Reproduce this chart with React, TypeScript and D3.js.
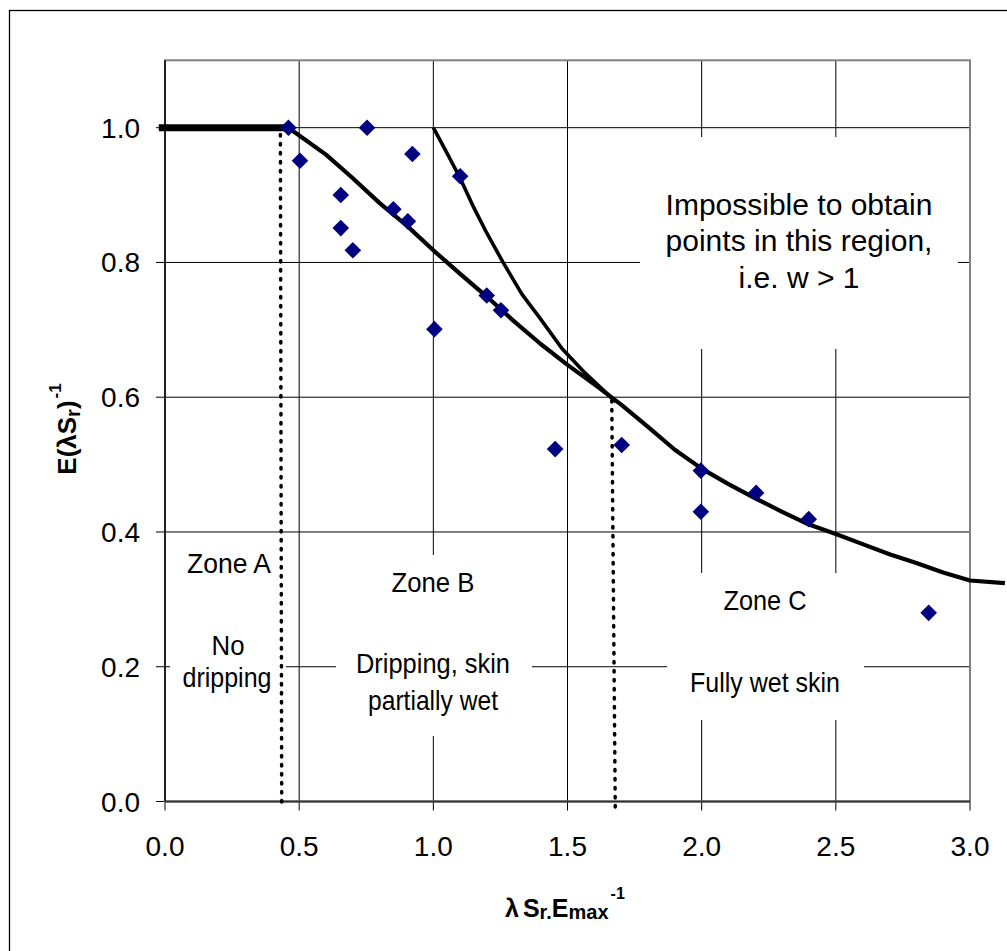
import React from "react";
import * as d3 from "d3";

const W = 1007;
const H = 951;

const xTicks = [0, 0.5, 1.0, 1.5, 2.0, 2.5, 3.0];
const yTicks = [0, 0.2, 0.4, 0.6, 0.8, 1.0];

// observed points (x, y)
const pointsX = [0.46, 0.503, 0.753, 0.922, 1.10, 0.655, 0.851, 0.905, 0.655, 0.70, 1.199, 1.252, 1.004, 1.454, 1.702, 1.997, 1.997, 2.203, 2.399, 2.846];
const pointsY = [1.0, 0.951, 1.0, 0.961, 0.928, 0.900, 0.879, 0.861, 0.851, 0.818, 0.751, 0.729, 0.701, 0.523, 0.529, 0.491, 0.430, 0.458, 0.419, 0.280];

// plateau (Zone A)
const plateauX = [-0.01, 0.46];
const plateauY = [1.0, 1.0];

// main model curve
const curveX = [0.46, 0.6, 0.7, 0.8, 0.9, 1.0, 1.1, 1.2, 1.3, 1.4, 1.5, 1.6, 1.7, 1.8, 1.9, 2.0, 2.1, 2.2, 2.3, 2.4, 2.5, 2.6, 2.7, 2.8, 2.9, 3.0, 3.13];
const curveY = [1.0, 0.96, 0.925, 0.888, 0.855, 0.818, 0.783, 0.749, 0.713, 0.679, 0.648, 0.619, 0.589, 0.556, 0.522, 0.494, 0.471, 0.450, 0.430, 0.411, 0.397, 0.382, 0.367, 0.354, 0.340, 0.328, 0.324];

// w = 1 boundary curve
const boundX = [1.0, 1.05, 1.1, 1.15, 1.2, 1.26, 1.33, 1.4, 1.48, 1.56, 1.68];
const boundY = [1.0, 0.963, 0.925, 0.882, 0.843, 0.800, 0.753, 0.716, 0.672, 0.638, 0.593];

// zone dividers (dotted)
const divAX = [0.43, 0.435];
const divAY = [0.99, -0.01];
const divBX = [1.665, 1.678];
const divBY = [0.595, -0.01];

const FONT = "'Liberation Sans', Arial, Helvetica, sans-serif";

export default function App() {
  const x = d3.scaleLinear().domain([0, 3]).range([165, 970]);
  const y = d3.scaleLinear().domain([0, 1.1]).range([801.5, 60.3]);
  const line = d3.line<[number, number]>().x((d) => x(d[0])).y((d) => y(d[1]));
  const zip = (a: number[], b: number[]) => a.map((v, i) => [v, b[i]] as [number, number]);

  const [x0, x1] = x.range();
  const [yb, yt] = y.range();

  const boxes = [
    { x: 170, y: 545, w: 116, h: 155 },
    { x: 336, y: 555, w: 196, h: 181 },
    { x: 667, y: 573, w: 197, h: 147 },
    { x: 640, y: 137, w: 318, h: 212 },
  ];

  const diamond = (cx: number, cy: number, r: number) =>
    `M${cx},${cy - r}L${cx + r},${cy}L${cx},${cy + r}L${cx - r},${cy}Z`;

  return (
    <svg width={W} height={H} style={{ position: "absolute", left: 0, top: 0, display: "block", background: "#fff" }} fontFamily={FONT}>
      <rect x={0} y={0} width={W} height={H} fill="#fff" />
      <rect x={9.5} y={10.5} width={1300} height={1300} fill="none" stroke="#000" strokeWidth={1.3} />

      {/* gridlines */}
      {xTicks.slice(1, -1).map((t) => (
        <line key={"gx" + t} x1={x(t)} x2={x(t)} y1={yt} y2={yb} stroke="#000" strokeWidth={1} />
      ))}
      {yTicks.slice(1).map((t) => (
        <line key={"gy" + t} x1={x0} x2={x1} y1={y(t)} y2={y(t)} stroke="#000" strokeWidth={1} />
      ))}

      {/* ticks */}
      {yTicks.map((t) => (
        <line key={"ty" + t} x1={x0 - 9} x2={x0} y1={y(t)} y2={y(t)} stroke="#000" strokeWidth={1} />
      ))}
      {xTicks.map((t) => (
        <line key={"tx" + t} x1={x(t)} x2={x(t)} y1={yb} y2={yb + 9} stroke="#000" strokeWidth={1} />
      ))}

      {/* label background boxes */}
      {boxes.map((b, i) => (
        <rect key={"b" + i} x={b.x} y={b.y} width={b.w} height={b.h} fill="#fff" />
      ))}

      {/* plot border */}
      <rect x={x0} y={yt} width={x1 - x0} height={yb - yt} fill="none" stroke="#808080" strokeWidth={2} />
      <line x1={x0} x2={x0} y1={yt} y2={yb} stroke="#000" strokeWidth={1.5} />
      <line x1={x0} x2={x1} y1={yb} y2={yb} stroke="#333" strokeWidth={2} />

      {/* curves */}
      <path d={line(zip(plateauX, plateauY)) || ""} fill="none" stroke="#000" strokeWidth={7} strokeLinecap="square" />
      <path d={line(zip(curveX, curveY)) || ""} fill="none" stroke="#000" strokeWidth={4.2} strokeLinejoin="round" />
      <path d={line(zip(boundX, boundY)) || ""} fill="none" stroke="#000" strokeWidth={3.6} strokeLinejoin="round" />

      {/* dotted dividers */}
      <path d={line(zip(divAX, divAY)) || ""} fill="none" stroke="#000" strokeWidth={3.5} strokeDasharray="1.5 7.5" strokeLinecap="round" />
      <path d={line(zip(divBX, divBY)) || ""} fill="none" stroke="#000" strokeWidth={3.5} strokeDasharray="1.5 7.5" strokeLinecap="round" />

      {/* points */}
      {pointsX.map((px, i) => (
        <path key={"p" + i} d={diamond(x(px), y(pointsY[i]), 8.3)} fill="#000080" />
      ))}

      {/* tick labels */}
      {yTicks.map((t) => (
        <text key={"ly" + t} x={140} y={y(t) + 10} textAnchor="end" fontSize={28} fill="#000">
          {t.toFixed(1)}
        </text>
      ))}
      {xTicks.map((t) => (
        <text key={"lx" + t} x={x(t)} y={856} textAnchor="middle" fontSize={28} fill="#000">
          {t.toFixed(1)}
        </text>
      ))}

      {/* axis titles */}
      <text x={505} y={917} fontSize={25} fontWeight="bold" fill="#000">
        <tspan>λ</tspan>
        <tspan dx={4}>S</tspan>
        <tspan fontSize={20} dy={2}>r.</tspan>
        <tspan dy={-2}>E</tspan>
        <tspan fontSize={20} dy={2}>max</tspan>
        <tspan fontSize={16} dx={2} dy={-20}>-1</tspan>
      </text>
      <text transform="translate(76,429) rotate(-90)" textAnchor="middle" fontSize={26} fontWeight="bold" fill="#000">
        <tspan>E(λ</tspan>
        <tspan>S</tspan>
        <tspan fontSize={20} dy={4}>r</tspan>
        <tspan dy={-4}>)</tspan>
        <tspan fontSize={17} dx={2} dy={-15}>-1</tspan>
      </text>

      {/* annotations */}
      <g fontSize={30} textAnchor="middle" fill="#000">
        <text x={799} y={215}>Impossible to obtain</text>
        <text x={799} y={251}>points in this region,</text>
        <text x={799} y={288}>i.e. w &gt; 1</text>
      </g>
      <g fontSize={28} textAnchor="middle" fill="#000">
        <text x={229} y={573} textLength={84} lengthAdjust="spacingAndGlyphs">Zone A</text>
        <text x={228} y={655} textLength={33} lengthAdjust="spacingAndGlyphs">No</text>
        <text x={227} y={687} textLength={89} lengthAdjust="spacingAndGlyphs">dripping</text>
        <text x={433} y={592} textLength={83} lengthAdjust="spacingAndGlyphs">Zone B</text>
        <text x={433} y={673} textLength={154} lengthAdjust="spacingAndGlyphs">Dripping, skin</text>
        <text x={433} y={710} textLength={130} lengthAdjust="spacingAndGlyphs">partially wet</text>
        <text x={765} y={610} textLength={83} lengthAdjust="spacingAndGlyphs">Zone C</text>
        <text x={765} y={692} textLength={150} lengthAdjust="spacingAndGlyphs">Fully wet skin</text>
      </g>
    </svg>
  );
}
